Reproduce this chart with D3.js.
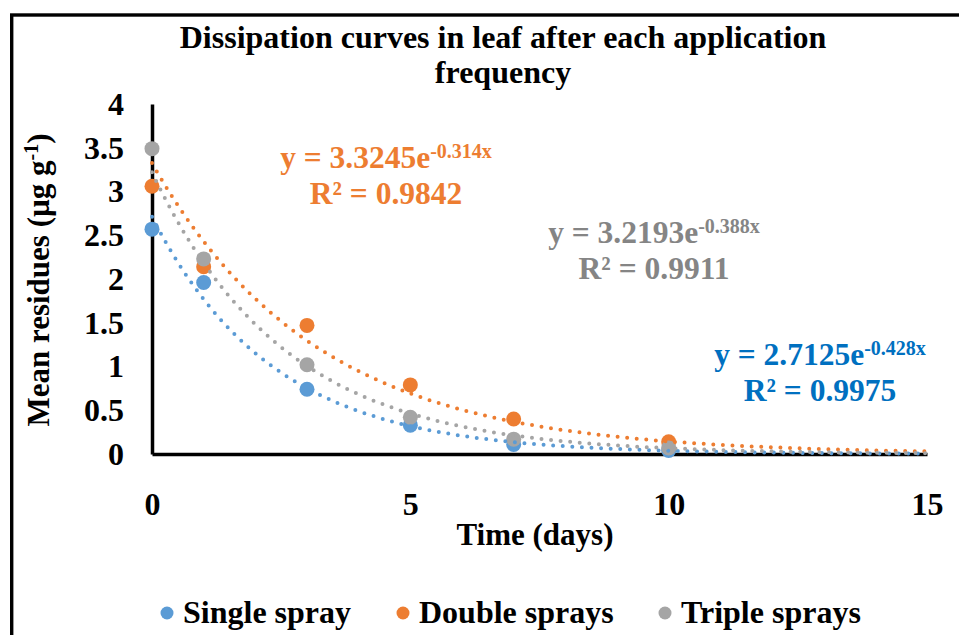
<!DOCTYPE html>
<html>
<head>
<meta charset="utf-8">
<script src="https://cdn.jsdelivr.net/npm/d3@7"></script>
<style>
  body { margin: 0; background: #fff; }
  svg { display: block; font-family: 'Liberation Serif', 'Times New Roman', serif; font-weight: bold; }
</style>
</head>
<body>
<svg width="959" height="635"></svg>
<script>
// sampling days and mean residues
const days = [0, 1, 3, 5, 7, 10]
const single = [2.57, 1.96, 0.74, 0.33, 0.11, 0.04]
const double = [3.06, 2.14, 1.47, 0.79, 0.40, 0.14]
const triple = [3.49, 2.23, 1.02, 0.42, 0.17, 0.07]

const seriesNames = ['Single spray', 'Double sprays', 'Triple sprays']
const seriesColors = ['#5b9bd5', '#ed7d31', '#a5a5a5']

// exponential trendlines as printed on the chart: y = a * e^(b x)
const fitA = ['2.7125', '3.3245', '3.2193']
const fitB = ['-0.428', '-0.314', '-0.388']
const fitR2 = ['0.9975', '0.9842', '0.9911']

const xTicks = [0, 5, 10, 15]
const yTicks = [0, 0.5, 1, 1.5, 2, 2.5, 3, 3.5, 4]

const series = [single, double, triple].map(function (vals, i) {
  return {
    name: seriesNames[i],
    color: seriesColors[i],
    a: +fitA[i],
    b: +fitB[i],
    r2: fitR2[i],
    points: days.map(function (d, j) { return { x: d, y: vals[j] } })
  }
})

let svg = d3.select('svg')

// outer frame (runs off the right and bottom of the picture)
svg.append('rect')
  .attr('x', 11.7).attr('y', 15)
  .attr('width', 1000).attr('height', 700)
  .attr('fill', 'none').attr('stroke', '#000').attr('stroke-width', 3.4)

let x = d3.scaleLinear().domain([0, 15]).range([152, 927])
let y = d3.scaleLinear().domain([0, 4]).range([454, 104])

// title
let title = svg.append('text')
  .attr('text-anchor', 'middle')
  .attr('font-size', 32)
  .attr('fill', '#000')
title.append('tspan').attr('x', 503).attr('y', 48).text('Dissipation curves in leaf after each application')
title.append('tspan').attr('x', 503).attr('y', 83).text('frequency')

// axes
let xAxis = svg.append('g')
  .attr('transform', 'translate(0,' + y(0) + ')')
  .call(d3.axisBottom(x).tickValues(xTicks).tickSize(0).tickSizeOuter(0).tickPadding(38))
xAxis.select('.domain').attr('stroke', '#000').attr('stroke-width', 3.5)

let yAxis = svg.append('g')
  .attr('transform', 'translate(' + x(0) + ',0)')
  .call(d3.axisLeft(y).tickValues(yTicks).tickSize(0).tickSizeOuter(0)
    .tickFormat(function (d) { return d }))
yAxis.select('.domain').attr('stroke', '#000').attr('stroke-width', 3.5)
yAxis.selectAll('.tick text')
  .attr('x', -28)
  .attr('text-anchor', 'end')

svg.selectAll('g')
  .attr('font-family', null)
  .attr('font-size', null)
svg.selectAll('.tick text')
  .attr('font-size', 32)
  .attr('fill', '#000')

svg.append('text')
  .attr('x', 535).attr('y', 545)
  .attr('text-anchor', 'middle')
  .attr('font-size', 31)
  .text('Time (days)')

let yTitle = svg.append('text')
  .attr('transform', 'translate(49,280) rotate(-90)')
  .attr('text-anchor', 'middle')
  .attr('font-size', 31)
yTitle.append('tspan').text('Mean residues (µg g')
yTitle.append('tspan').attr('font-size', 20).attr('dy', -11).text('-1')
yTitle.append('tspan').attr('dy', 11).text(')')

// markers
series.forEach(function (s) {
  svg.append('g')
    .selectAll('circle')
    .data(s.points)
    .enter()
    .append('circle')
    .attr('cx', function (d) { return x(d.x) })
    .attr('cy', function (d) { return y(d.y) })
    .attr('r', 7.5)
    .attr('fill', s.color)
})

// dotted trendlines drawn from the printed equations
let line = d3.line()
  .x(function (d) { return x(d[0]) })
  .y(function (d) { return y(d[1]) })
series.forEach(function (s) {
  let pts = d3.range(0, 15.001, 0.05).map(function (t) { return [t, s.a * Math.exp(s.b * t)] })
  svg.append('path')
    .attr('d', line(pts))
    .attr('fill', 'none')
    .attr('stroke', s.color)
    .attr('stroke-width', 4)
    .attr('stroke-linecap', 'round')
    .attr('stroke-dasharray', '0 9.6')
})

// trendline labels
let labelPos = [
  { cx: 820, y: 365, color: '#0070c0' },
  { cx: 386, y: 168, color: '#ed7d31' },
  { cx: 654, y: 243, color: '#858585' }
]
series.forEach(function (s, i) {
  let p = labelPos[i]
  let t1 = svg.append('text')
    .attr('x', p.cx).attr('y', p.y)
    .attr('text-anchor', 'middle')
    .attr('font-size', 31.5)
    .attr('fill', p.color)
  t1.append('tspan').text('y = ' + fitA[i] + 'e')
  t1.append('tspan').attr('font-size', 20).attr('dy', -10).text(fitB[i] + 'x')
  svg.append('text')
    .attr('x', p.cx).attr('y', p.y + 36)
    .attr('text-anchor', 'middle')
    .attr('font-size', 31.5)
    .attr('fill', p.color)
    .text('R² = ' + fitR2[i])
})

// legend
let legendX = [167, 403, 665]
let legend = svg.append('g')
  .selectAll('g')
  .data(series)
  .enter()
  .append('g')
  .attr('transform', function (d, i) { return 'translate(' + legendX[i] + ',613)' })
legend.append('circle').attr('r', 6.5).attr('fill', function (d) { return d.color })
legend.append('text')
  .attr('x', 16).attr('y', 10)
  .attr('font-size', 32)
  .text(function (d) { return d.name })
</script>
</body>
</html>
